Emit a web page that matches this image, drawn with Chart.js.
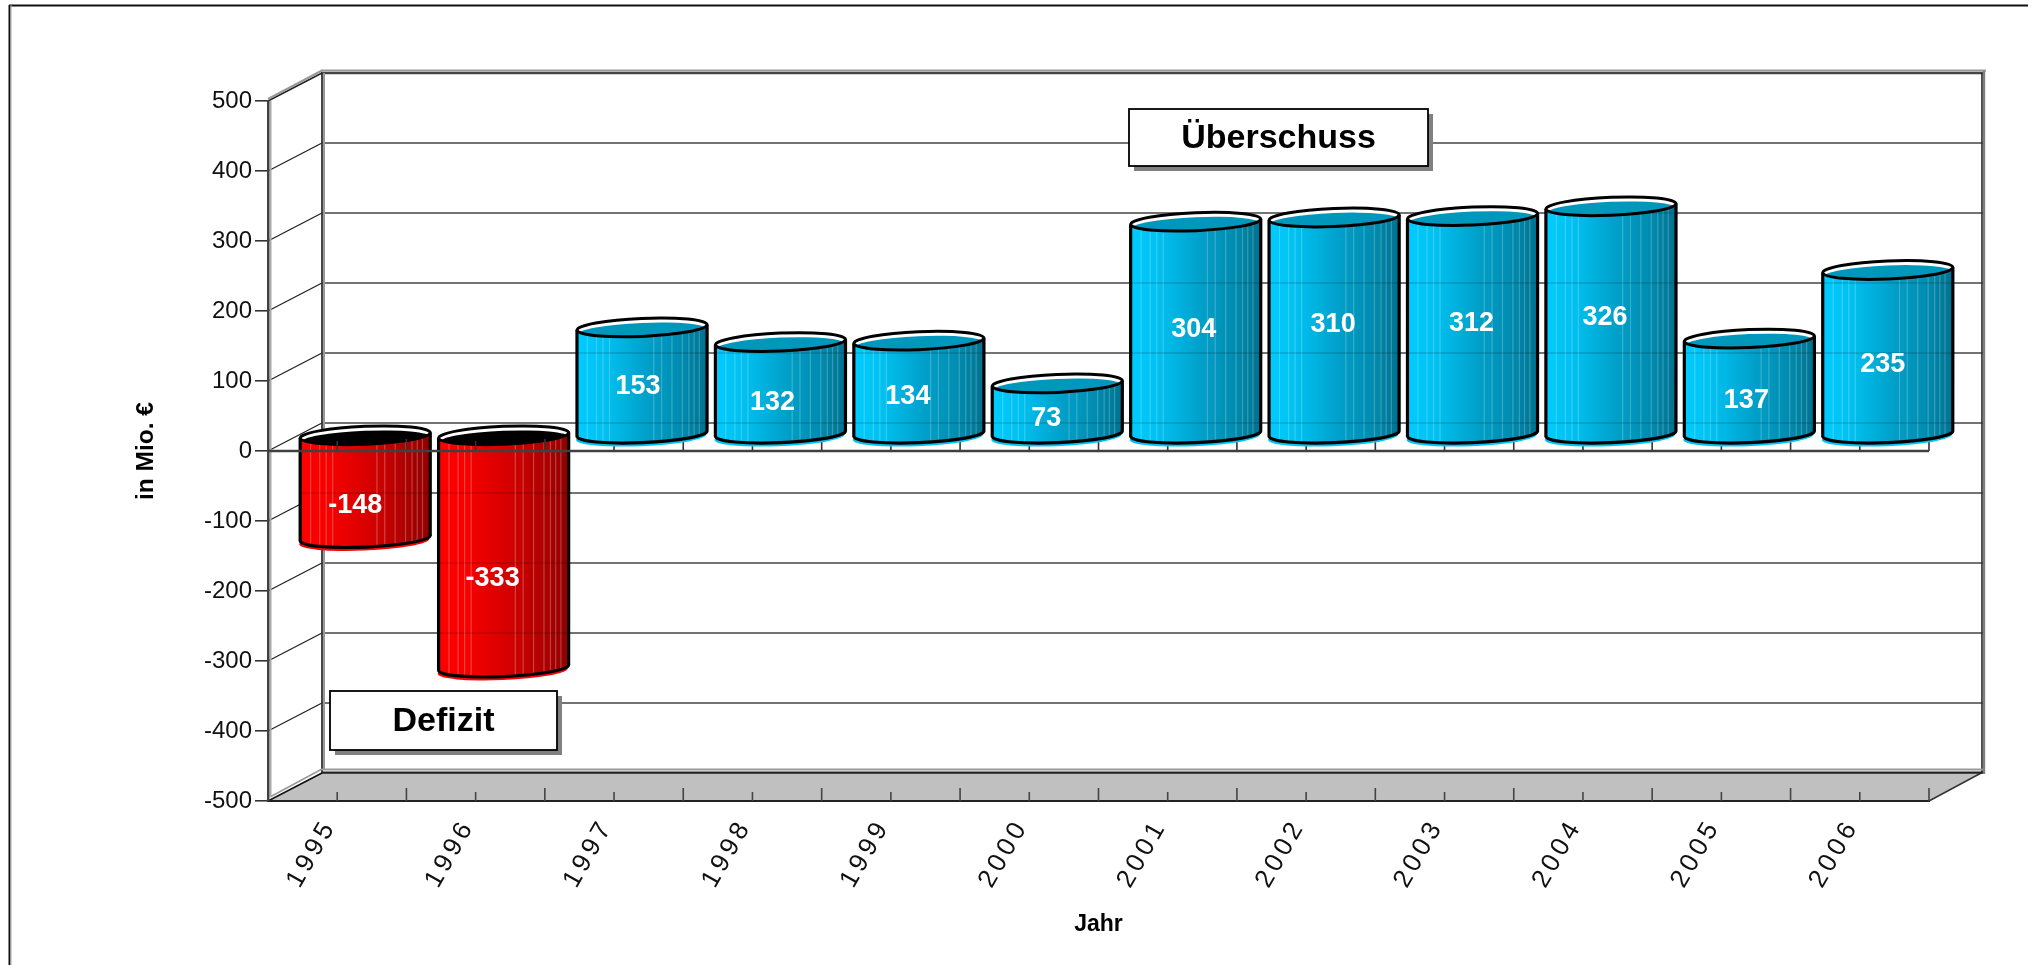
<!DOCTYPE html>
<html lang="de"><head><meta charset="utf-8"><title>Jahr</title>
<style>html,body{margin:0;padding:0;background:#fff}#w{width:2033px;height:965px}</style>
<script src="https://cdn.jsdelivr.net/npm/chart.js@4"></script></head>
<body><div id="w"><canvas id="c" width="2033" height="965"></canvas></div>
<script>
const years = ['1995','1996','1997','1998','1999','2000','2001','2002','2003','2004','2005','2006'];
const deficit = [-148,-333,null,null,null,null,null,null,null,null,null,null];
const surplus = [null,null,153,132,134,73,304,310,312,326,137,235];
const yMin = -500, yMax = 500, yStep = 100;
const labelNudgeX = [-10,-11,-4,-8,-11,-11,-2,-1,-1,-6,-3,-5];
const labelNudgeY = [19,27,6,15,9,10,2,-1,-1,-2,14,13];
const stripes = [.08,.15,.2,.25,.59,.65,.73,.81,.86,.9,.94];
const FONT = '"Liberation Sans", Arial, sans-serif';
const D = {bx:54, by:28, mx:28, my:16.5, b:9, rot:-2.4*Math.PI/180};
const looks = [
 {stops:[[0,'#ff0000'],[.22,'#f60000'],[.55,'#d40000'],[.8,'#b00000'],[1,'#8f0000']], cap:'#000000', glow:'#ff0000', sh:.25},
 {stops:[[0,'#00ccff'],[.22,'#00c0f0'],[.55,'#009fc8'],[.8,'#008cb0'],[1,'#00718f']], cap:'#0097bd', glow:'#00c4f5', sh:.22}
];
function line(ctx,x1,y1,x2,y2,color,w){ctx.strokeStyle=color;ctx.lineWidth=w;ctx.beginPath();ctx.moveTo(x1,y1);ctx.lineTo(x2,y2);ctx.stroke();}
function bodyPath(ctx,cx,t,bm,a){
  const s=a*Math.sin(-D.rot);
  ctx.beginPath();
  ctx.moveTo(cx-a,t+s);ctx.lineTo(cx-a,bm+s);
  ctx.ellipse(cx,bm,a,D.b,D.rot,Math.PI,0,true);
  ctx.lineTo(cx+a,t-s);
  ctx.ellipse(cx,t,a,D.b,D.rot,0,Math.PI,true);
  ctx.closePath();
}
function drawCylinders(chart,idx){
  const ctx=chart.ctx, meta=chart.getDatasetMeta(idx), look=looks[idx], ys=chart.scales.y;
  const vals=chart.data.datasets[idx].data;
  meta.data.forEach((el,i)=>{
    if(vals[i]==null) return;
    const cx=el.x, a=el.width/2, t=Math.min(el.y,el.base), bm=Math.max(el.y,el.base), s=a*Math.sin(-D.rot);
    ctx.save();ctx.fillStyle=look.glow;ctx.beginPath();ctx.ellipse(cx-1,bm+3.5,a,D.b,D.rot,0,Math.PI*2);ctx.fill();ctx.restore();
    const g=ctx.createLinearGradient(cx-a,0,cx+a,0);look.stops.forEach(p=>g.addColorStop(p[0],p[1]));
    ctx.save();bodyPath(ctx,cx,t,bm,a);ctx.fillStyle=g;ctx.fill();ctx.clip();
    stripes.forEach(f=>line(ctx,cx-a+2*a*f,t-20,cx-a+2*a*f,bm+20,'rgba(255,255,255,'+look.sh+')',1.2));
    ys.ticks.forEach(tk=>{const y=ys.getPixelForValue(tk.value)-D.by+D.my;line(ctx,cx-a,y,cx+a,y,'rgba(0,0,0,.16)',1.5);});
    ctx.restore();
    ctx.strokeStyle='#000';ctx.lineWidth=3.2;ctx.lineJoin='round';ctx.beginPath();
    ctx.moveTo(cx-a,t+s);ctx.lineTo(cx-a,bm+s);ctx.ellipse(cx,bm,a,D.b,D.rot,Math.PI,0,true);ctx.lineTo(cx+a,t-s);ctx.stroke();
    ctx.save();ctx.beginPath();ctx.ellipse(cx,t,a,D.b,D.rot,0,Math.PI*2);ctx.fillStyle='#fff';ctx.fill();ctx.clip();
    ctx.beginPath();ctx.ellipse(cx,t+4.5,a,D.b,D.rot,0,Math.PI*2);ctx.fillStyle=look.cap;ctx.fill();ctx.restore();
    ctx.strokeStyle='#000';ctx.lineWidth=3;ctx.beginPath();ctx.ellipse(cx,t,a,D.b,D.rot,0,Math.PI*2);ctx.stroke();
  });
}
function drawLabels(chart){
  const ctx=chart.ctx;
  ctx.save();ctx.font='bold 27px '+FONT;ctx.fillStyle='#fff';ctx.textAlign='center';ctx.textBaseline='middle';
  chart.data.datasets.forEach((ds,idx)=>{
    chart.getDatasetMeta(idx).data.forEach((el,i)=>{
      if(ds.data[i]==null) return;
      ctx.fillText(String(ds.data[i]),el.x+D.mx+labelNudgeX[i],(el.y+el.base)/2-D.my+labelNudgeY[i]);
    });
  });
  ctx.restore();
}
function note(ctx,text,x,y,w,h){
  ctx.save();ctx.fillStyle='#808080';ctx.fillRect(x+5,y+5,w,h);
  ctx.fillStyle='#fff';ctx.fillRect(x,y,w,h);
  ctx.strokeStyle='#000';ctx.lineWidth=1.8;ctx.strokeRect(x,y,w,h);
  ctx.font='bold 34px '+FONT;ctx.fillStyle='#000';ctx.textAlign='center';ctx.textBaseline='middle';
  ctx.fillText(text,x+w/2,y+h/2+1);ctx.restore();
}
const frame3d={
  id:'frame3d',
  beforeDraw(chart){
    const ctx=chart.ctx,{left:L,right:R,top:T,bottom:B}=chart.chartArea,ys=chart.scales.y;
    if(!chart.scales.x._spaced){
      const sx=chart.scales.x,orig=sx.drawLabels;
      sx.drawLabels=function(a){ctx.save();ctx.letterSpacing='4px';orig.call(this,a);ctx.restore();};
      sx._spaced=true;
    }
    ctx.save();
    line(ctx,9,5.5,2028,5.5,'#111',2);
    line(ctx,9.5,5,9.5,965,'#111',2);line(ctx,11,5,11,965,'#aaa',1);
    const bL=L+D.bx,bR=R+D.bx;
    ctx.fillStyle='#c0c0c0';ctx.beginPath();ctx.moveTo(L,B);ctx.lineTo(R,B);ctx.lineTo(bR,B-D.by-1);ctx.lineTo(bL,B-D.by-1);ctx.closePath();ctx.fill();
    line(ctx,R,B,bR,B-D.by-1,'#333',1.5);
    ys.ticks.forEach(tk=>{
      const y=ys.getPixelForValue(tk.value);
      if(tk.value!==yMin&&tk.value!==yMax){
        line(ctx,L,y,bL,y-D.by,'#222',1.3);
        line(ctx,bL,y-D.by,bR,y-D.by,'#444',1.5);
      }
    });
    const tY=T-D.by,fY=B-D.by;
    line(ctx,bL-1,tY,bR+2,tY,'#444',2.4);line(ctx,bL-1,tY-2.4,bR+3,tY-2.4,'#999',2);
    line(ctx,bL,tY,bL,fY,'#333',1.8);line(ctx,bL+2,tY,bL+2,fY-3,'#999',2);
    line(ctx,bR-1,tY,bR-1,fY,'#222',1.6);line(ctx,bR+1,tY-2,bR+1,fY+1,'#808080',2.4);
    line(ctx,bL,fY-3.4,bR,fY-3.4,'#999',2);line(ctx,bL,fY-.4,bR,fY-.4,'#222',2.4);
    line(ctx,L,T,bL,tY,'#222',1.5);line(ctx,L,T-2,bL,tY-2.5,'#999',2);
    line(ctx,L,B,bL,fY,'#111',1.5);line(ctx,L+2,B-4,bL,fY-4,'#999',1.5);
    line(ctx,L+2.5,T,L+2.5,B-4,'#aaa',2);
    ctx.restore();
  },
  beforeDatasetDraw(chart,args){
    chart.ctx.save();chart.ctx.translate(D.mx,-D.my);
  },
  afterDatasetDraw(chart,args){
    const ctx=chart.ctx;
    drawCylinders(chart,args.index);
    ctx.restore();
    if(args.index===0){
      const sx=chart.scales.x,ys=chart.scales.y,{left:L,right:R}=chart.chartArea,y0=ys.getPixelForValue(0);
      const cw=(R-L)/years.length;
      years.forEach((_,i)=>{
        const c=sx.getPixelForValue(i);
        line(ctx,c,y0,c,y0-10,'#333',1.6);
        line(ctx,c+cw/2,y0,c+cw/2,y0-12,'#333',1.6);
      });
      line(ctx,L,y0,R,y0,'#404040',2.4);
    }
  },
  afterDatasetsDraw(chart){
    const ctx=chart.ctx,sx=chart.scales.x,{left:L,right:R,bottom:B}=chart.chartArea,cw=(R-L)/years.length;
    years.forEach((_,i)=>{
      const c=sx.getPixelForValue(i);
      line(ctx,c,B,c,B-9,'#444',1.6);
      line(ctx,c+cw/2,B,c+cw/2,B-13,'#444',1.6);
    });
    drawLabels(chart);
    note(ctx,'Überschuss',1129,109,299,57);
    note(ctx,'Defizit',330,691,227,59);
  }
};
new Chart(document.getElementById('c'),{
  type:'bar',
  plugins:[frame3d],
  data:{labels:years,datasets:[
    {label:'Defizit',data:deficit,order:2,backgroundColor:'#e00000',barPercentage:.94,categoryPercentage:1},
    {label:'Überschuss',data:surplus,order:1,backgroundColor:'#00a8d4',barPercentage:.94,categoryPercentage:1}
  ]},
  options:{
    responsive:false,animation:false,devicePixelRatio:1,
    layout:{padding:{left:0,top:101,right:104,bottom:0}},
    plugins:{legend:{display:false},tooltip:{enabled:false},title:{display:false}},
    scales:{
      x:{stacked:true,
        grid:{display:false,drawTicks:false},
        border:{display:true,color:'#222',width:2},
        ticks:{autoSkip:false,minRotation:60,maxRotation:60,padding:13,labelOffset:-7,color:'#111',font:{family:FONT,size:26}},
        title:{display:true,text:'Jahr',color:'#000',font:{family:FONT,size:23,weight:'bold'},padding:{top:0,bottom:27}},
        afterFit(s){s.height=164;}
      },
      y:{stacked:true,min:yMin,max:yMax,
        afterBuildTicks(s){s.ticks=[];for(let v=yMin;v<=yMax;v+=yStep)s.ticks.push({value:v});},
        grid:{drawOnChartArea:false,drawTicks:true,tickLength:13,color:'#333',lineWidth:1.6},
        border:{display:true,color:'#404040',width:2.4},
        ticks:{padding:3,color:'#111',font:{family:FONT,size:24}},
        title:{display:true,text:'in Mio. €',color:'#000',font:{family:FONT,size:24.5,weight:'bold'},padding:{top:132,bottom:0}},
        afterFit(s){s.width=268;}
      }
    }
  }
});
</script></body></html>
